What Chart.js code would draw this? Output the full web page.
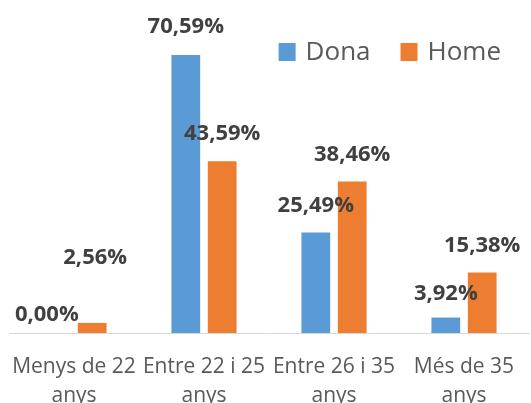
<!DOCTYPE html>
<html>
<head>
<meta charset="utf-8">
<script src="https://cdn.jsdelivr.net/npm/chart.js@4/dist/chart.umd.min.js"></script>
<style>
  html, body { margin: 0; padding: 0; background: #ffffff; }
  #wrap { width: 531px; height: 403px; }
</style>
</head>
<body>
<div id="wrap"><canvas id="c" width="531" height="403"></canvas></div>
<script>
const categories = [["Menys de 22", "anys"], ["Entre 22 i 25", "anys"], ["Entre 26 i 35", "anys"], ["Més de 35", "anys"]];
const seriesNames = ["Dona", "Home"];
const donaValues = [0.00, 70.59, 25.49, 3.92];
const homeValues = [2.56, 43.59, 38.46, 15.38];

// label placement nudges (dx, dy above bar top), styling only
const labelNudges = [
  [[-9, 18], [0, 28], [0, 27], [0, 24]],
  [[3, 65], [0, 28], [0, 27], [0, 27]]
];

const valueLabels = {
  id: 'valueLabels',
  afterDatasetsDraw(chart) {
    const ctx = chart.ctx;
    ctx.save();
    ctx.font = 'bold 22px "Open Sans"';
    ctx.fillStyle = '#404040';
    ctx.textAlign = 'center';
    ctx.textBaseline = 'middle';
    chart.data.datasets.forEach((ds, di) => {
      const meta = chart.getDatasetMeta(di);
      meta.data.forEach((bar, i) => {
        const n = labelNudges[di][i];
        const txt = ds.data[i].toFixed(2).replace('.', ',') + '%';
        ctx.fillText(txt, bar.x + n[0], bar.y - n[1]);
      });
    });
    ctx.restore();
  }
};

// legend drawn inside the plot, top right (as in the reference)
const insideLegend = {
  id: 'insideLegend',
  afterDraw(chart) {
    const ctx = chart.ctx;
    const box = 17, gapText = 10, gapItem = 30, cy = 52;
    ctx.save();
    ctx.font = '26px "Open Sans"';
    ctx.textBaseline = 'middle';
    ctx.textAlign = 'left';
    const items = chart.data.datasets.map(ds => ({ text: ds.label, color: ds.backgroundColor, w: ctx.measureText(ds.label).width }));
    let total = 0;
    items.forEach((it, i) => { total += box + gapText + it.w + (i < items.length - 1 ? gapItem : 0); });
    let x = chart.chartArea.right - 28 - total;
    items.forEach(it => {
      ctx.fillStyle = it.color;
      ctx.fillRect(x, cy - 9, box, 18);
      x += box + gapText;
      ctx.fillStyle = '#595959';
      ctx.fillText(it.text, x, cy + 1);
      x += it.w + gapItem;
    });
    ctx.restore();
  }
};

new Chart(document.getElementById('c'), {
  type: 'bar',
  data: {
    labels: categories,
    datasets: [
      { label: seriesNames[0], data: donaValues, backgroundColor: '#5b9bd5', borderWidth: 0,
        categoryPercentage: 0.56, barPercentage: 0.79 },
      { label: seriesNames[1], data: homeValues, backgroundColor: '#ed7d31', borderWidth: 0,
        categoryPercentage: 0.56, barPercentage: 0.79 }
    ]
  },
  options: {
    responsive: false,
    animation: false,
    layout: { padding: { left: 9, right: 2, top: 6, bottom: 0 } },
    plugins: {
      tooltip: { enabled: false },
      legend: { display: false }
    },
    scales: {
      x: {
        grid: { display: false },
        border: { display: true, color: '#d9d9d9', width: 1 },
        ticks: {
          color: '#595959',
          padding: 11,
          maxRotation: 0,
          autoSkip: false,
          font: { family: '"Open Sans"', size: 21, lineHeight: 1.4 }
        },
        afterFit(scale) { scale.height = 70; scale.paddingLeft = 0; scale.paddingRight = 0; }
      },
      y: {
        display: false,
        min: 0,
        max: 83
      }
    }
  },
  plugins: [valueLabels, insideLegend]
});
</script>
</body>
</html>
